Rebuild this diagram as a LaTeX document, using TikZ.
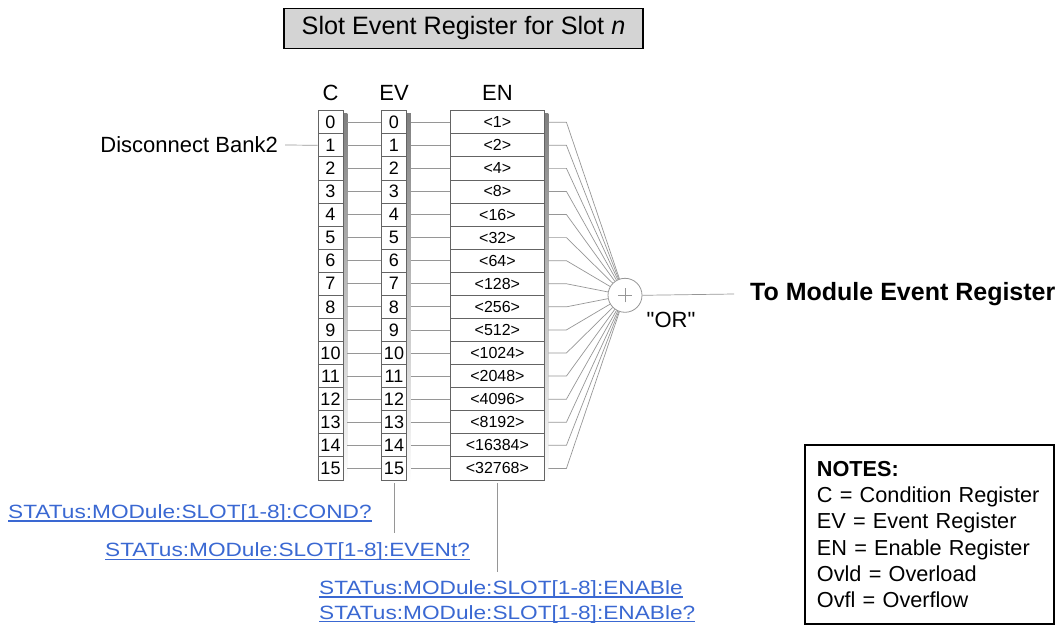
\documentclass[tikz,border=0pt]{standalone}
\usepackage{graphicx}
\usepackage{fontspec}
\setmainfont{Liberation Sans}
\newfontfamily\rawsans{Liberation Sans}[Ligatures=TeXOff]
\usetikzlibrary{calc,backgrounds}
\definecolor{linkblue}{RGB}{58,104,210}
\definecolor{cellline}{RGB}{100,100,100}
\definecolor{wire}{RGB}{150,150,150}
\definecolor{shade}{RGB}{178,178,178}
\definecolor{titlefill}{RGB}{212,212,212}

% hyperlink-style command text: widened face, underline just below the baseline
\newcommand\linkline[1]{\setbox0\hbox{\scalebox{1.18}[1]{#1}}%
  \rlap{\rule[-3.2pt]{\wd0}{1.1pt}}\box0}

\begin{document}
\begin{tikzpicture}[x=1pt,y=-1pt,
  cell/.style={draw=cellline, fill=white, line width=0.75pt, inner sep=0pt,
    minimum height=23.08pt, font=\fontsize{18}{18}\selectfont},
  ccell/.style={cell, minimum width=25pt},
  encell/.style={cell, minimum width=93.3pt, font=\fontsize{16}{16}\selectfont},
  wire/.style={draw=wire, line width=0.7pt},
  head/.style={inner sep=0pt, font=\fontsize{22}{22}\selectfont},
  link/.style={inner sep=0pt, anchor=base west, text=linkblue,
    font=\fontsize{19.2}{20}\selectfont},
  plain/.style={inner sep=0pt, font=\fontsize{22}{22}\selectfont}
]
\useasboundingbox (0,0) rectangle (1060,626);

% title
\node[draw=black, line width=1.2pt, fill=titlefill, minimum width=359pt,
      minimum height=40pt, inner sep=0pt, font=\fontsize{25.2}{26}\selectfont]
  (title) at (463.5,28.2) {Slot Event Register for Slot \textit{n}};

% column headings
\node[head] (hC)  at (330.5,93) {C};
\node[head] (hEV) at (394,93) {EV};
\node[head] (hEN) at (497.4,93) {EN};

% register cells
\foreach \i/\w in {0/1,1/2,2/4,3/8,4/16,5/32,6/64,7/128,8/256,9/512,
                   10/1024,11/2048,12/4096,13/8192,14/16384,15/32768} {
  \pgfmathsetmacro\yy{122.2+23.08*\i}
  \node[ccell]  (C\i) at (330.5,\yy) {\i};
  \node[ccell]  (V\i) at (394,\yy) {\i};
  \node[encell] (N\i) at (497.4,\yy) {<\w>};
}

% drop shadows behind the three registers
\begin{scope}[on background layer]
  \fill[shade] ($(C0.north west)+(4,3)$) rectangle ($(C15.south east)+(4,3)$);
  \fill[shade] ($(V0.north west)+(4,3)$) rectangle ($(V15.south east)+(4,3)$);
  \fill[shade] ($(N0.north west)+(4,3)$) rectangle ($(N15.south east)+(4,3)$);
\end{scope}

% OR gate
\node[circle, draw=wire, line width=0.8pt, minimum size=34pt, inner sep=0pt,
      fill=white] (orgate) at (625,295.3) {};
\draw[wire] ([xshift=-7pt]orgate.center) -- ([xshift=7pt]orgate.center);
\draw[wire] ([yshift=-7pt]orgate.center) -- ([yshift=7pt]orgate.center);
\node[plain] (orlbl) at (671,320) {\rawsans "OR"};

% bit wires between the registers and into the gate
\foreach \i in {0,...,15} {
  \draw[wire] ([xshift=4pt]C\i.east) -- (V\i.west);
  \draw[wire] ([xshift=4pt]V\i.east) -- (N\i.west);
  \draw[wire] ([xshift=4pt]N\i.east) -- ++(18,0) -- (orgate);
}

% output
\node[inner sep=0pt, anchor=west, font=\bfseries\fontsize{25}{26}\selectfont]
  (tomod) at (750,294) {To Module Event Register};
\draw[wire] (orgate.east) -- ([xshift=-16pt]tomod.west);

% input condition
\node[plain, anchor=east] (disc) at (278,145) {Disconnect Bank2};
\draw[wire] ([xshift=7pt]disc.east) -- (C1.west);

% query commands
\node[link] (condq) at (8,518.3) {\linkline{STATus:MODule:SLOT[1-8]:COND?}};
\node[link] (evq)   at (105,556.7) {\linkline{STATus:MODule:SLOT[1-8]:EVENt?}};
\node[link] (enc)   at (319,594.3) {\linkline{STATus:MODule:SLOT[1-8]:ENABle}};
\node[link] (enq)   at (319,619) {\linkline{STATus:MODule:SLOT[1-8]:ENABle?}};
\coordinate (evend) at (V15.south |- 0,533);
\coordinate (enend) at (N15.south |- 0,572);
\draw[wire] ([yshift=-3pt]V15.south) -- (evend);
\draw[wire] ([yshift=-3pt]N15.south) -- (enend);

% notes
\node[draw=black, line width=1.8pt, anchor=north west, minimum width=249pt,
      minimum height=179pt, inner xsep=12pt, text width=225pt, align=left,
      font=\fontsize{21.7}{26.3}\selectfont] (notes) at (804,444)
  {\textbf{NOTES:}\\ C = Condition Register\\ EV = Event Register\\
   EN = Enable Register\\ Ovld = Overload\\ Ovfl = Overflow};
\end{tikzpicture}
\end{document}
